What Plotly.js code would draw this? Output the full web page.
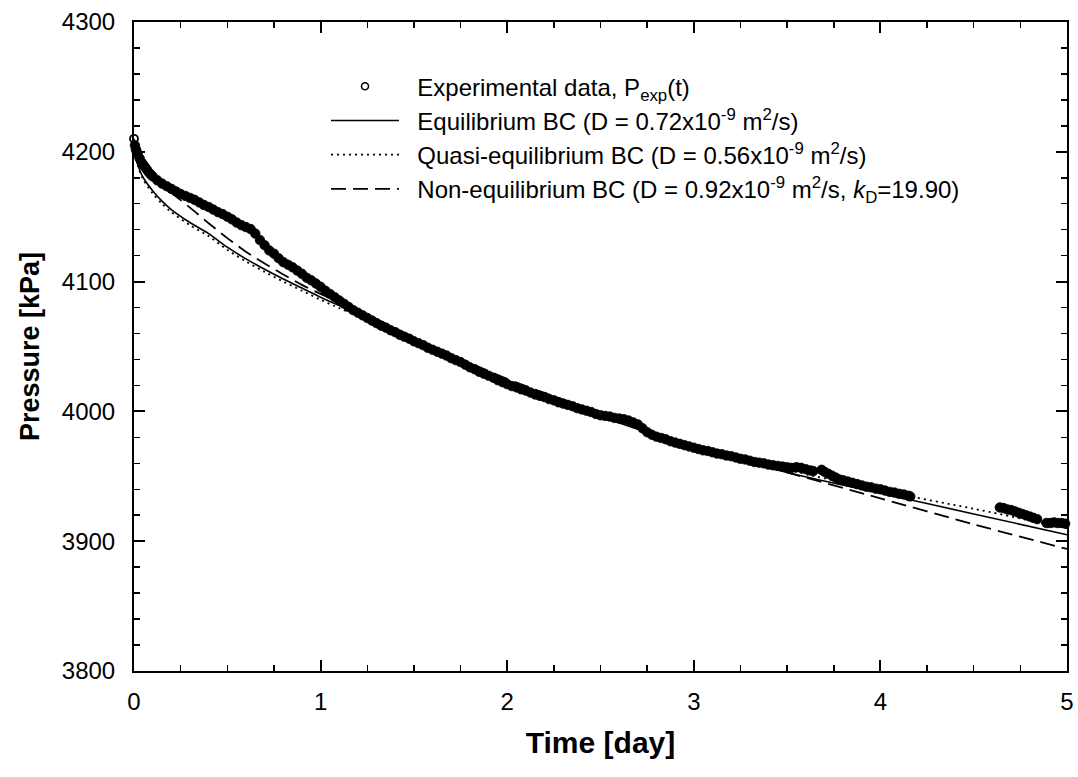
<!DOCTYPE html>
<html>
<head>
<meta charset="utf-8">
<script src="https://cdn.plot.ly/plotly-3.0.1.min.js"></script>
<style>
html,body{margin:0;padding:0;background:#fff;}
#chart{width:1078px;height:777px;}
.legend .scrollbox{clip-path:none !important;}
</style>
</head>
<body>
<div id="chart"></div>
<script>
// Experimental data (time in days, pressure in kPa)
var expT = [0,0.005,0.01,0.015,0.02,0.03,0.04,0.05,0.06,0.07,0.08,0.09,0.1,0.125,0.15,0.175,0.2,0.225,0.25,0.275,0.3,0.325,0.35,0.375,0.4,0.425,0.45,0.475,0.5,0.525,0.55,0.575,0.6,0.625,0.65,0.675,0.7,0.725,0.75,0.775,0.8,0.825,0.85,0.875,0.9,0.925,0.95,0.975,1.0,1.025,1.05,1.075,1.1,1.125,1.15,1.175,1.2,1.225,1.25,1.275,1.3,1.325,1.35,1.375,1.4,1.425,1.45,1.475,1.5,1.525,1.55,1.575,1.6,1.625,1.65,1.675,1.7,1.725,1.75,1.775,1.8,1.825,1.85,1.875,1.9,1.925,1.95,1.975,2.0,2.025,2.05,2.075,2.1,2.125,2.15,2.175,2.2,2.225,2.25,2.275,2.3,2.325,2.35,2.375,2.4,2.425,2.45,2.475,2.5,2.525,2.55,2.575,2.6,2.625,2.65,2.675,2.7,2.725,2.75,2.775,2.8,2.825,2.85,2.875,2.9,2.925,2.95,2.975,3.0,3.025,3.05,3.075,3.1,3.125,3.15,3.175,3.2,3.225,3.25,3.275,3.3,3.325,3.35,3.375,3.4,3.425,3.45,3.475,3.5,3.525,3.55,3.575,3.6,3.625,3.64,
3.685,3.7,3.72,3.74,3.76,3.78,3.8,3.825,3.85,3.875,3.9,3.925,3.95,3.975,4.0,4.025,4.05,4.075,4.1,4.125,4.15,4.16,
4.64,4.66,4.68,4.7,4.72,4.74,4.76,4.78,4.8,4.82,4.84,
4.89,4.91,4.93,4.95,4.97,4.99];
var expP = [4210,4205,4202,4200,4198,4195,4192,4190,4188,4186,4184,4182.5,4181,4178,4175.5,4173.5,4171.5,4169.5,4167.5,4166,4164.5,4163,4161,4159,4157.5,4155.5,4153.5,4152,4150,4148,4145.5,4143.5,4142,4140.5,4137,4132,4128,4124,4121.5,4118,4115,4113,4111,4108.5,4106,4103,4101,4098.5,4096,4093,4090.5,4088,4085.5,4083,4080.5,4078,4076,4074,4072,4070,4068,4066,4064.5,4062.5,4061,4059,4057.5,4056,4054,4052.5,4051,4049,4047.5,4046,4044.5,4043,4041,4039.5,4038,4036,4034,4032.5,4030.5,4029,4027.5,4026,4024,4022.5,4021,4019.5,4018.5,4017,4016,4014.5,4013,4012,4011,4009.5,4008.5,4007,4006,4005,4004,4002.5,4001.5,4000.5,3999.5,3998,3997,3996.5,3996,3995,3994.5,3994,3993,3991.5,3990,3987,3984,3982,3980.5,3979.5,3978.5,3977,3976,3975,3974,3973,3972,3971,3970,3969.5,3968.5,3967.5,3967,3966,3965.5,3964.5,3963.5,3963,3962,3961,3960.5,3960,3959,3958.5,3958,3957.5,3957,3956.5,3957,3956.5,3955.5,3954.5,3954,
3955,3953.5,3952,3950.5,3949,3947.5,3947,3946,3945,3944,3943,3942,3941.5,3940.5,3940,3939,3938,3937.5,3936.5,3936,3935,3934.5,
3926,3925.5,3924.5,3924,3923,3922,3921,3920,3919,3918,3917,
3914,3914,3914.5,3914,3914,3913.5];

// Equilibrium BC model
var eqT = [0,0.005,0.03,0.05,0.1,0.15,0.2,0.3,0.4,0.5,0.6,0.7,0.8,0.9,1.0,1.1,1.2,1.5,2.0,2.5,3.0,3.5,4.0,4.5,5.0];
var eqP = [4208,4199,4186,4180,4170,4162,4155.5,4145.5,4137,4126.5,4117.5,4109.5,4102,4095,4088,4081.5,4075.5,4053,4021,3996,3972,3953,3937,3921,3905];

// Quasi-equilibrium BC model
var qeT = [0,0.005,0.03,0.05,0.1,0.15,0.2,0.3,0.4,0.5,0.6,0.7,0.8,0.9,1.0,1.1,1.2,1.5,2.0,2.5,3.0,3.5,4.0,4.5,5.0];
var qeP = [4208,4198,4185,4178.5,4168,4160,4153.5,4143.5,4135,4124.5,4115.5,4107.5,4100,4093,4086,4079.5,4073.5,4052,4021,3997,3973,3955,3939,3925,3910];

// Non-equilibrium BC model
var neT = [0,0.01,0.03,0.06,0.1,0.15,0.2,0.3,0.4,0.5,0.6,0.7,0.8,0.9,1.0,1.2,1.5,2.0,2.5,3.0,3.5,4.0,4.5,5.0];
var neP = [4210,4202,4195,4187,4180,4174,4168.5,4157,4145,4133.5,4123,4114,4105.5,4097.5,4090.5,4078,4057,4025,3999,3973,3953,3933,3913,3894];

// Per-point marker styling: the first point is a thin open circle, the dense rest merge into a band
var expSymbol = expT.map(function (t, i) { return i === 0 ? 'circle-open' : 'circle'; });
var expSize = expT.map(function (t, i) { return i === 0 ? 8 : 9.5; });
var expLine = expT.map(function (t, i) { return i === 0 ? 1.8 : 0.8; });

var FONT = 'Liberation Sans, Arial, Helvetica, sans-serif';
var PAD = '\u00A0\u00A0';

var traces = [
  {x: expT, y: expP, mode: 'markers', type: 'scatter', name: 'exp', showlegend: false,
   legendgroup: 'a', cliponaxis: false,
   marker: {symbol: expSymbol, size: expSize, opacity: 1, color: '#000', line: {width: expLine, color: '#000'}}},
  {x: [null], y: [null], mode: 'markers', type: 'scatter', name: PAD + 'Experimental data, P<sub>exp</sub>(t)',
   legendgroup: 'a', showlegend: true,
   marker: {symbol: 'circle-open', size: 7, opacity: 1, color: '#000', line: {width: 1.6, color: '#000'}}},
  {x: eqT, y: eqP, mode: 'lines', type: 'scatter', name: PAD + 'Equilibrium BC (D = 0.72x10<sup>-9</sup> m<sup>2</sup>/s)',
   legendgroup: 'b', line: {color: '#000', width: 1.6, shape: 'spline', smoothing: 0.8}},
  {x: qeT, y: qeP, mode: 'lines', type: 'scatter', name: PAD + 'Quasi-equilibrium BC (D = 0.56x10<sup>-9</sup> m<sup>2</sup>/s)',
   legendgroup: 'c', line: {color: '#000', width: 1.8, dash: '2px,4px', shape: 'spline', smoothing: 0.8}},
  {x: neT, y: neP, mode: 'lines', type: 'scatter', name: PAD + 'Non-equilibrium BC (D = 0.92x10<sup>-9</sup> m<sup>2</sup>/s, <i>k</i><sub>D</sub>=19.90)',
   legendgroup: 'd', line: {color: '#000', width: 1.8, dash: '15px,7px', shape: 'spline', smoothing: 0.8}}
];

var axisCommon = {
  showgrid: false, zeroline: false, showline: true, linecolor: '#000', linewidth: 2,
  mirror: 'ticks', ticks: 'inside', ticklen: 11, tickwidth: 2, tickcolor: '#000',
  tickfont: {family: FONT, size: 24, color: '#000'}
};

var layout = {
  width: 1078, height: 777,
  margin: {l: 134, r: 11, t: 22, b: 106},
  paper_bgcolor: '#fff', plot_bgcolor: '#fff',
  showlegend: true,
  xaxis: Object.assign({}, axisCommon, {
    range: [0, 5], dtick: 1, tick0: 0,
    minor: {dtick: 0.25, ticks: 'inside', ticklen: 6, tickwidth: 1.5, tickcolor: '#000', showgrid: false},
    ticklabelstandoff: 8,
    title: {text: 'Time [day]', font: {family: FONT, size: 30, color: '#000', weight: 'bold'}, standoff: 18}
  }),
  yaxis: Object.assign({}, axisCommon, {
    range: [3800, 4300], dtick: 100, tick0: 3800,
    minor: {dtick: 20, ticks: 'inside', ticklen: 6, tickwidth: 1.5, tickcolor: '#000', showgrid: false},
    ticklabelstandoff: 12,
    title: {text: 'Pressure [kPa]', font: {family: FONT, size: 27, color: '#000', weight: 'bold'}, standoff: 14}
  }),
  legend: {
    x: 0.2058, xanchor: 'left', y: 0.935, yanchor: 'top',
    bgcolor: 'rgba(0,0,0,0)', borderwidth: 0,
    font: {family: FONT, size: 24, color: '#000'},
    itemwidth: 68, tracegroupgap: 3, traceorder: 'normal'
  }
};

Plotly.newPlot('chart', traces, layout, {staticPlot: true, displayModeBar: false});
</script>
</body>
</html>
